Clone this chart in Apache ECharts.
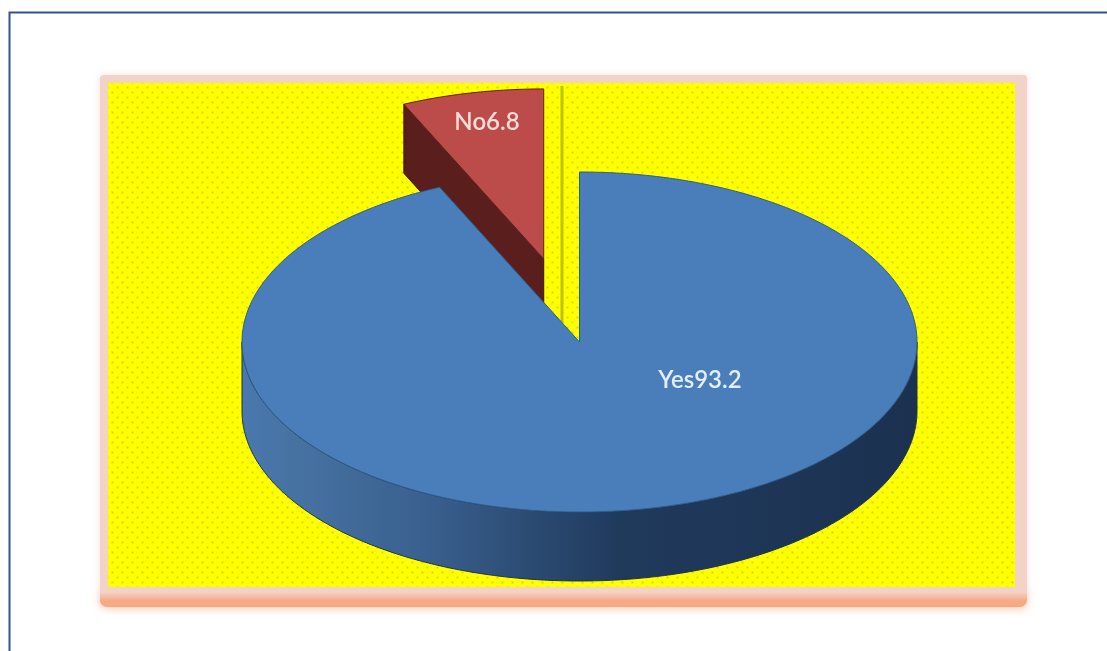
<!DOCTYPE html>
<html><head><meta charset="utf-8">
<style>html,body{margin:0;padding:0;background:#fff;overflow:hidden}#c{width:1107px;height:651px;filter:blur(0.5px)}</style>
<script src="https://cdn.jsdelivr.net/npm/echarts@6/dist/echarts.min.js"></script>
</head><body><div id="c"></div>
<script>
const categories = ['Yes', 'No'];
const values = [93.2, 6.8];

const cx = 579.5, cy = 342, rx = 337.5, ry = 170, depth = 69, explode = [0, 0.5];
const labelPos = [[700, 380], [487, 122]];
const labelColor = ['#e3eefb', '#fbdcd8'];
const total = values.reduce((a, b) => a + b, 0);

function pattern() {
  const c = document.createElement('canvas');
  c.width = 10; c.height = 10;
  const g = c.getContext('2d');
  g.fillStyle = '#ffff00'; g.fillRect(0, 0, 10, 10);
  [[2, 2], [7, 7]].forEach(p => {
    g.fillStyle = 'rgba(150,150,0,0.12)'; g.fillRect(p[0] - 1, p[1] - 1, 3, 3);
    g.fillStyle = 'rgba(130,130,0,0.3)'; g.fillRect(p[0], p[1], 1, 1);
  });
  return c;
}
function startOf(i) { let s = 0; for (let k = 0; k < i; k++) s += values[k]; return s / total * 2 * Math.PI; }
function pt(t, ox, oy) { return [cx + ox + rx * Math.sin(t), cy + oy - ry * Math.cos(t)]; }
function arc(a, b, ox, oy) {
  const n = Math.max(2, Math.ceil(Math.abs(b - a) / 0.01)), out = [];
  for (let i = 0; i <= n; i++) out.push(pt(a + (b - a) * i / n, ox, oy));
  return out;
}
const sideBlue = {
  type: 'linear', global: true, x: 242, y: 0, x2: 917, y2: 0,
  colorStops: [
    { offset: 0, color: '#4a78ae' }, { offset: 0.1, color: '#45709f' }, { offset: 0.28, color: '#395f8e' },
    { offset: 0.42, color: '#2c4c74' }, { offset: 0.56, color: '#203a5c' }, { offset: 1, color: '#1c3150' }
  ]
};
function renderItem(params, api) {
  const i = params.dataIndex;
  const a = startOf(i), b = a + api.value(0) / total * 2 * Math.PI;
  const mid = (a + b) / 2;
  const ox = rx * Math.sin(mid) * explode[i], oy = -ry * Math.cos(mid) * explode[i];
  const apex = [cx + ox, cy + oy];
  const children = [];
  if (i === 1) {
    const c0 = pt(a, ox, oy);
    children.push({ type: 'polygon', z2: 1, shape: { points: [c0, apex, [apex[0], apex[1] + depth], [c0[0], c0[1] + depth]] },
      style: { fill: '#5a1e1c', stroke: '#3d1210', lineWidth: 1 } });
  } else {
    const low = Math.max(a, Math.PI / 2), high = Math.min(b, 1.5 * Math.PI);
    const top = arc(low, high, 0, 0), bot = arc(high, low, 0, depth);
    children.push({ type: 'polygon', z2: 5, shape: { points: top.concat(bot) },
      style: { fill: sideBlue, stroke: '#1b3253', lineWidth: 1 } });
  }
  children.push({ type: 'polygon', z2: i === 1 ? 2 : 6, shape: { points: [apex].concat(arc(a, b, ox, oy)) },
    style: { fill: i === 0 ? '#4a7ebb' : '#bc4c4a', stroke: i === 0 ? '#2c5c8e' : '#64201e', lineWidth: 1 } });
  children.push({ type: 'text', z2: 10, x: labelPos[i][0], y: labelPos[i][1], style: {
    text: categories[i] + api.value(0), fill: labelColor[i], font: '600 24px Lato, "Open Sans", sans-serif',
    align: 'center', verticalAlign: 'middle' } });
  return { type: 'group', children };
}
const chart = echarts.init(document.getElementById('c'), null, { renderer: 'canvas' });
chart.setOption({
  animation: false,
  backgroundColor: '#fff',
  graphic: [
    { type: 'polyline', z: 0, shape: { points: [[9.5, 651], [9.5, 12.5], [1107, 12.5]] }, style: { fill: 'none', stroke: '#35528f', lineWidth: 2 } },
    { type: 'rect', z: 0, shape: { x: 100, y: 590, width: 927, height: 17, r: 7 },
      style: { fill: '#f6a982', shadowBlur: 9, shadowColor: 'rgba(246,170,130,0.75)', shadowOffsetY: 1 } },
    { type: 'rect', z: 0, shape: { x: 100, y: 75, width: 927, height: 520, r: 4 },
      style: { fill: '#f3d3c7', shadowBlur: 7, shadowColor: 'rgba(243,211,199,0.7)' } },
    { type: 'rect', z: 0, shape: { x: 100, y: 592, width: 927, height: 9 },
      style: { fill: { type: 'linear', x: 0, y: 0, x2: 0, y2: 1, colorStops: [
        { offset: 0, color: '#f3d3c7' }, { offset: 1, color: '#f6a982' }] } } },
    { type: 'rect', z: 0, shape: { x: 108, y: 83, width: 907, height: 504 }, style: { fill: { image: pattern(), repeat: 'repeat' } } },
    { type: 'line', z: 0, shape: { x1: 562, y1: 86, x2: 562, y2: 323 }, style: { stroke: '#bcc400', lineWidth: 3 } }
  ],
  series: [{
    type: 'custom', coordinateSystem: 'none', silent: true, clip: false,
    data: values.map((v, i) => ({ name: categories[i], value: [v] })),
    renderItem
  }]
});
</script></body></html>
